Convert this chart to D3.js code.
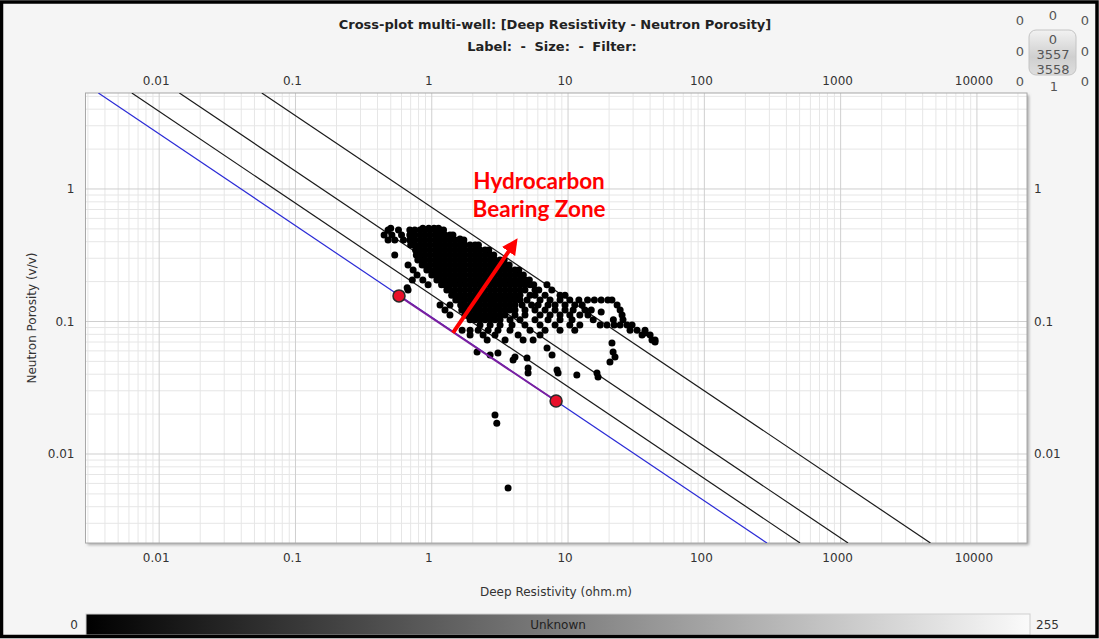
<!DOCTYPE html>
<html><head><meta charset="utf-8">
<script src="https://cdn.jsdelivr.net/npm/d3@7"></script>
<style>body{margin:0;background:#f5f5f5;} svg{display:block}</style>
</head><body><svg id="c" width="1099" height="639"></svg>
<script>
// ---------- DATA ----------
const titleText = "Cross-plot multi-well: [Deep Resistivity - Neutron Porosity]";
const subtitleParts = ["Label: ", "- ", "Size: ", "- ", "Filter:"];
const xTitle = "Deep Resistivity (ohm.m)";
const yTitle = "Neutron Porosity (v/v)";
const xTicks = [0.01, 0.1, 1, 10, 100, 1000, 10000];
const xTickLabels = ["0.01", "0.1", "1", "10", "100", "1000", "10000"];
const yTicks = [1, 0.1, 0.01];
const yTickLabels = ["1", "0.1", "0.01"];
const xDomain = [0.00288, 23300];
const yDomain = [0.00213, 5.3];

// Saturation lines (endpoints [Rt, phi]) : Sw=1 (blue), 0.75, 0.5, 0.25
const waterLine = [[0.00358, 5.3], [288, 0.00213]];
const swLines = [
  [[0.0063, 5.3], [504, 0.00213]],
  [[0.01407, 5.3], [1133, 0.00213]],
  [[0.0566, 5.3], [4560, 0.00213]]
];
// Calibration points on water line
const calibPoints = [[0.575, 0.156], [8.17, 0.0251]];
// Red arrow (start, end)
const arrowPts = [[1.43, 0.0819], [3.95, 0.378]];
const annotation = ["Hydrocarbon", "Bearing Zone"];
const annotationAt = [6.13, 1.0];

// Scatter cloud: rows of constant porosity with resistivity values
const cloudPhi = [0.505, 0.49, 0.45, 0.412, 0.378, 0.347, 0.318, 0.291, 0.267, 0.245, 0.224, 0.206, 0.189, 0.173, 0.158, 0.145, 0.133, 0.122, 0.112, 0.103, 0.094, 0.086, 0.079, 0.0725];
const cloudRt = [
  [0.5,0.86,0.95,1.04,1.12],
  [0.478,0.57,0.69,0.75,0.82,0.89,0.97,1.06,1.15,1.22],
  [0.447,0.51,0.6,0.69,0.75,0.82,0.89,0.97,1.06,1.15,1.25,1.36,1.43],
  [0.478,0.535,0.62,0.69,0.75,0.82,0.89,0.97,1.06,1.15,1.25,1.36,1.48,1.61,1.72],
  [0.7,0.75,0.82,0.89,0.97,1.06,1.15,1.25,1.36,1.48,1.61,1.75,1.91,2.08,2.2],
  [0.76,0.82,0.89,0.97,1.06,1.15,1.25,1.36,1.48,1.61,1.75,1.91,2.08,2.26,2.46,2.62],
  [0.535,0.77,0.82,0.89,0.97,1.06,1.15,1.25,1.36,1.48,1.61,1.75,1.91,2.08,2.26,2.46,2.68,2.85],
  [0.79,0.84,0.89,0.97,1.06,1.15,1.25,1.36,1.48,1.61,1.75,1.91,2.08,2.26,2.46,2.68,2.91,3.17,3.4],
  [0.67,0.85,0.89,0.97,1.06,1.15,1.25,1.36,1.48,1.61,1.75,1.91,2.08,2.26,2.46,2.68,2.91,3.17,3.45,3.7],
  [0.73,0.92,0.97,1.06,1.15,1.25,1.36,1.48,1.61,1.75,1.91,2.08,2.26,2.46,2.68,2.91,3.17,3.45,3.75,4.08,4.35],
  [0.78,1.0,1.06,1.15,1.25,1.36,1.48,1.61,1.75,1.91,2.08,2.26,2.46,2.68,2.91,3.17,3.45,3.75,4.08,4.44,4.7],
  [0.72,0.86,1.09,1.15,1.25,1.36,1.48,1.61,1.75,1.91,2.08,2.26,2.46,2.68,2.91,3.17,3.45,3.75,4.08,4.44,4.83,5.2],
  [0.94,1.18,1.25,1.36,1.48,1.61,1.75,1.91,2.08,2.26,2.46,2.68,2.91,3.17,3.45,3.75,4.08,4.44,4.83,5.26,5.6,7.0],
  [0.67,1.29,1.36,1.48,1.61,1.75,1.91,2.08,2.26,2.46,2.68,2.91,3.17,3.45,3.75,4.08,4.44,4.83,5.72,6.1,7.6],
  [1.4,1.48,1.61,1.75,1.91,2.08,2.26,2.46,2.68,2.91,3.17,3.45,3.75,4.08,4.44,5.26,5.72,6.78,8.73,9.5],
  [1.5,1.61,1.75,1.91,2.08,2.26,2.46,2.68,2.91,3.17,3.45,3.75,4.08,4.44,5.0,6.23,7.38,8.73,10.3,12.0,13.9,15.6,17.5,19.6,21.0],
  [1.15,1.36,1.63,1.75,1.91,2.08,2.26,2.46,2.68,2.91,3.17,3.45,3.75,4.08,4.6,5.4,6.03,7.13,8.03,9.5,11.2,12.7,22.9],
  [1.25,1.66,1.75,1.91,2.08,2.26,2.46,2.68,2.91,3.17,3.45,3.75,4.08,4.83,5.72,6.78,8.03,9.5,10.9,13.3,14.8,24.1],
  [1.36,1.75,1.91,2.08,2.26,2.46,2.68,2.91,3.17,3.45,4.08,4.83,6.23,7.38,8.73,10.3,12.2,14.0,24.9],
  [1.91,2.08,2.26,2.46,2.68,2.91,3.17,3.75,4.44,5.72,7.13,8.73,10.7,15.3,21.5,25.3],
  [2.26,2.68,3.17,3.88,4.83,6.23,8.03,10.3,12.2,17.2,19.3,21.8,24.1,27.1,29.5],
  [1.67,1.91,2.19,2.59,3.06,3.75,5.26,6.78,8.73,11.2,28.5,32.1,36.7],
  [1.91,2.38,2.91,4.3,6.23,34.9,40.0],
  [2.55,3.45,4.68,5.54,41.3,43.5]
];
const centreDot = [[17.5, 0.118]];
const sparsePts = [
  [2.15,0.0589],[2.68,0.0558],[3.06,0.0578],[3.95,0.0512],[4.08,0.054],[5.0,0.053],
  [5.09,0.0446],[5.09,0.0409],[7.01,0.0631],[7.63,0.0558],[8.3,0.043],[8.45,0.0409],
  [11.6,0.0395],[16.3,0.0409],[16.6,0.0381],[21.0,0.0689],[21.4,0.0589],[22.1,0.054],
  [20.3,0.0494],[2.91,0.0197],[3.0,0.0171],[3.63,0.00554],[43.5,0.070],[36.7,0.0819],
  [1.61,0.42],[0.66,0.18]
];
const colorbarLabels = ["0", "Unknown", "255"];
const widgetOuter = ["0","0","0","0","0","0","1","0"];
const widgetInner = ["0","3557","3558"];

// ---------- LAYOUT ----------
const svg = d3.select("#c");
const P = {l: 85.5, r: 1027, t: 93, b: 543};
const x = d3.scaleLog().domain(xDomain).range([P.l, P.r]);
const y = d3.scaleLog().domain(yDomain).range([P.b, P.t]);
const FONT = "'DejaVu Sans', Verdana, sans-serif";

const defs = svg.append("defs");
const sh = defs.append("filter").attr("id","sh").attr("x","-5%").attr("y","-5%").attr("width","110%").attr("height","110%");
sh.append("feDropShadow").attr("dx",2).attr("dy",2).attr("stdDeviation",1.5).attr("flood-color","#777").attr("flood-opacity",0.6);
defs.append("clipPath").attr("id","clip").append("rect")
  .attr("x",P.l).attr("y",P.t).attr("width",P.r-P.l).attr("height",P.b-P.t);
const cg = defs.append("linearGradient").attr("id","cbar");
cg.append("stop").attr("offset","0%").attr("stop-color","#000");
cg.append("stop").attr("offset","100%").attr("stop-color","#fafafa");
const wg = defs.append("linearGradient").attr("id","wbox").attr("x1",0).attr("y1",0).attr("x2",0).attr("y2",1);
wg.append("stop").attr("offset","0%").attr("stop-color","#f2f2f2");
wg.append("stop").attr("offset","60%").attr("stop-color","#cfcfcf");
wg.append("stop").attr("offset","100%").attr("stop-color","#dedede");
defs.append("marker").attr("id","ah").attr("viewBox","0 0 10 10").attr("refX",5).attr("refY",5)
  .attr("markerWidth",4).attr("markerHeight",4).attr("orient","auto")
  .append("path").attr("d","M0,0 L10,5 L0,10 z").attr("fill","#ff0000");

svg.append("rect").attr("width",1099).attr("height",639).attr("fill","#f5f5f5");

// Titles
svg.append("text").attr("x",555).attr("y",29).attr("text-anchor","middle")
  .attr("font-family",FONT).attr("font-weight","bold").attr("font-size",13).attr("fill","#222").text(titleText);
const sub = svg.append("text").attr("x",552).attr("y",51).attr("text-anchor","middle")
  .attr("font-family",FONT).attr("font-weight","bold").attr("font-size",13).attr("fill","#222");
sub.selectAll("tspan").data(subtitleParts).enter().append("tspan")
  .attr("dx",(d,i)=> i ? 4 : 0).text(d=>d);

// Plot background
svg.append("rect").attr("x",P.l).attr("y",P.t).attr("width",P.r-P.l).attr("height",P.b-P.t)
  .attr("fill","#fff").attr("filter","url(#sh)");

// Grid
const minor = [], major = [];
for (let e = -3; e <= 4; e++) for (let k = 1; k <= 9; k++) {
  const v = k * Math.pow(10, e);
  (k === 1 ? major : minor).push(v);
}
const grid = svg.append("g");
grid.selectAll(".mx").data(minor.filter(v => v > xDomain[0] && v < xDomain[1])).enter().append("line")
  .attr("x1",d=>x(d)).attr("x2",d=>x(d)).attr("y1",P.t).attr("y2",P.b).attr("stroke","#e6e6e6");
grid.selectAll(".my").data(minor.filter(v => v > yDomain[0] && v < yDomain[1])).enter().append("line")
  .attr("y1",d=>y(d)).attr("y2",d=>y(d)).attr("x1",P.l).attr("x2",P.r).attr("stroke","#e6e6e6");
grid.selectAll(".Mx").data(major.filter(v => v > xDomain[0] && v < xDomain[1])).enter().append("line")
  .attr("x1",d=>x(d)).attr("x2",d=>x(d)).attr("y1",P.t).attr("y2",P.b).attr("stroke","#cfcfcf");
grid.selectAll(".My").data(major.filter(v => v > yDomain[0] && v < yDomain[1])).enter().append("line")
  .attr("y1",d=>y(d)).attr("y2",d=>y(d)).attr("x1",P.l).attr("x2",P.r).attr("stroke","#cfcfcf");

// Border
svg.append("rect").attr("x",P.l).attr("y",P.t).attr("width",P.r-P.l).attr("height",P.b-P.t)
  .attr("fill","none").attr("stroke","#a8a8a8");

// Axes
function styleAxis(g){ g.select(".domain").remove(); g.selectAll("line").remove();
  g.selectAll("text").attr("font-family",FONT).attr("font-size",12).attr("fill","#333"); }
svg.append("g").attr("transform",`translate(-3.5,${P.t})`)
  .call(d3.axisTop(x).tickValues(xTicks).tickFormat((d,i)=>xTickLabels[i]).tickSize(0).tickPadding(8)).call(styleAxis);
svg.append("g").attr("transform",`translate(-3.5,${P.b})`)
  .call(d3.axisBottom(x).tickValues(xTicks).tickFormat((d,i)=>xTickLabels[i]).tickSize(0).tickPadding(10)).call(styleAxis);
svg.append("g").attr("transform",`translate(${P.l},0)`)
  .call(d3.axisLeft(y).tickValues(yTicks).tickFormat((d,i)=>yTickLabels[i]).tickSize(0).tickPadding(11)).call(styleAxis);
svg.append("g").attr("transform",`translate(${P.r},0)`)
  .call(d3.axisRight(y).tickValues(yTicks).tickFormat((d,i)=>yTickLabels[i]).tickSize(0).tickPadding(7)).call(styleAxis);

svg.append("text").attr("x",556).attr("y",596).attr("text-anchor","middle")
  .attr("font-family",FONT).attr("font-size",12).attr("fill","#333").text(xTitle);
svg.append("text").attr("transform","translate(36,318) rotate(-90)").attr("text-anchor","middle")
  .attr("font-family",FONT).attr("font-size",12).attr("fill","#333").text(yTitle);

// Lines
const plotG = svg.append("g").attr("clip-path","url(#clip)");
const lineGen = d3.line().x(d=>x(d[0])).y(d=>y(d[1]));
swLines.forEach(l => plotG.append("path").attr("d",lineGen(l)).attr("stroke","#1a1a1a").attr("stroke-width",1.2).attr("fill","none"));
plotG.append("path").attr("d",lineGen(waterLine)).attr("stroke","#2b2bd6").attr("stroke-width",1.2).attr("fill","none");

// Scatter
const pts = [];
cloudRt.forEach((row,i) => row.forEach(r => pts.push([r, cloudPhi[i]])));
centreDot.forEach(p => pts.push(p));
sparsePts.forEach(p => pts.push(p));
plotG.selectAll(".pt").data(pts).enter().append("circle")
  .attr("cx",d=>x(d[0])).attr("cy",d=>y(d[1])).attr("r",3.5).attr("fill","#000");

// Calibration segment and points
plotG.append("path").attr("d",lineGen(calibPoints)).attr("stroke","#7a1fa0").attr("stroke-width",2).attr("fill","none");
plotG.selectAll(".cp").data(calibPoints).enter().append("circle")
  .attr("cx",d=>x(d[0])).attr("cy",d=>y(d[1])).attr("r",6).attr("fill","#e8102a").attr("stroke","#2a2a2a").attr("stroke-width",1.5);

// Arrow
plotG.append("path").attr("d",lineGen(arrowPts)).attr("stroke","#ff0000").attr("stroke-width",4)
  .attr("fill","none").attr("marker-end","url(#ah)");
svg.selectAll(".ann").data(annotation).enter().append("text")
  .attr("x",x(annotationAt[0])).attr("y",(d,i)=>y(annotationAt[1]) + i*28)
  .attr("text-anchor","middle").attr("font-family","Lato, 'Liberation Sans', sans-serif")
  .attr("font-weight","bold").attr("font-size",22.5).attr("fill","#ff0000").text(d=>d);

// Colorbar
svg.append("rect").attr("x",86).attr("y",614).attr("width",944).attr("height",21)
  .attr("fill","url(#cbar)").attr("stroke","#cfcfcf");
svg.append("text").attr("x",78).attr("y",629).attr("text-anchor","end").attr("font-family",FONT).attr("font-size",12).attr("fill","#333").text(colorbarLabels[0]);
svg.append("text").attr("x",558).attr("y",629).attr("text-anchor","middle").attr("font-family",FONT).attr("font-size",12).attr("fill","#222").text(colorbarLabels[1]);
svg.append("text").attr("x",1036).attr("y",629).attr("text-anchor","start").attr("font-family",FONT).attr("font-size",12).attr("fill","#333").text(colorbarLabels[2]);

// Widget (top-right)
const wx = [1020,1053,1085,1020,1085,1020,1054,1085];
const wy = [25,20,25,56,56,86,91,86];
svg.append("rect").attr("x",1029).attr("y",30).attr("width",47).attr("height",45).attr("rx",7)
  .attr("fill","url(#wbox)").attr("stroke","#c4c4c4");
svg.selectAll(".wo").data(widgetOuter).enter().append("text")
  .attr("x",(d,i)=>wx[i]).attr("y",(d,i)=>wy[i]).attr("text-anchor","middle")
  .attr("font-family",FONT).attr("font-size",13).attr("fill","#555").text(d=>d);
svg.selectAll(".wi").data(widgetInner).enter().append("text")
  .attr("x",1053).attr("y",(d,i)=>44+i*15).attr("text-anchor","middle")
  .attr("font-family",FONT).attr("font-size",13).attr("fill","#555").text(d=>d);

// Outer frame
svg.append("rect").attr("x",1.5).attr("y",2).attr("width",1095.5).attr("height",634.5)
  .attr("fill","none").attr("stroke","#000").attr("stroke-width",3.5);
</script></body></html>
